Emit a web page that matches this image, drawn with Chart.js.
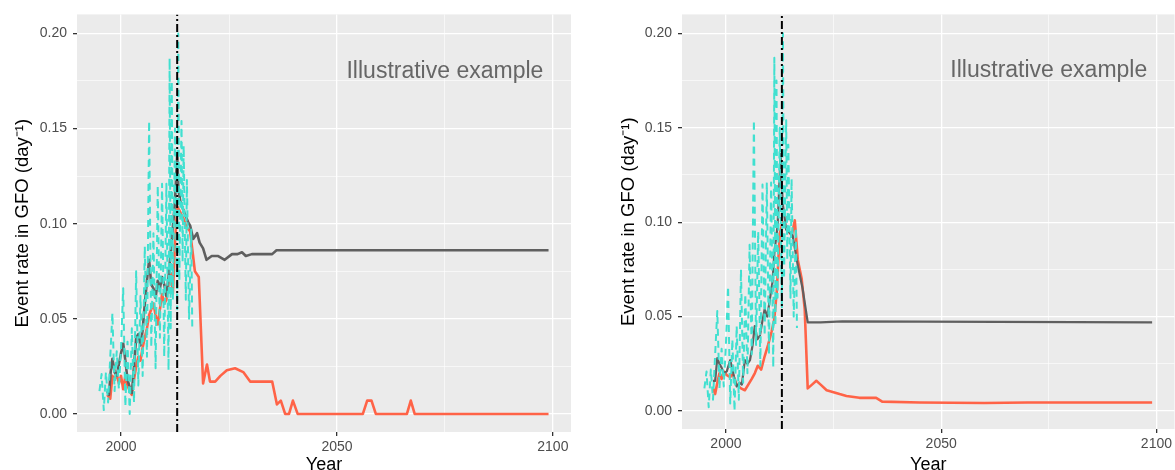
<!DOCTYPE html>
<html lang="en">
<head>
<meta charset="UTF-8" />
<title>Event rate in GFO</title>
<script src="https://cdn.jsdelivr.net/npm/chart.js@4.4.1/dist/chart.umd.min.js"></script>
<style>
  html, body { margin: 0; padding: 0; background: #fff; width: 1175px; height: 470px; overflow: hidden; }
  .panel { position: absolute; top: 0; height: 480px; }
  #left { left: 0; width: 590px; }
  #right { left: 590px; width: 585px; }
</style>
</head>
<body>
<div class="panel" id="left"><canvas id="leftChart"></canvas></div>
<div class="panel" id="right"><canvas id="rightChart"></canvas></div>
<script>
// axis ranges and ticks
const xMin = 1989.8, xMax = 2104.2;
const yMin = -0.0095, yMax = 0.21;
const xTicks = [2000, 2025, 2050, 2075, 2100];
const xMajor = [2000, 2050, 2100];
const yTicks = [0, 0.025, 0.05, 0.075, 0.1, 0.125, 0.15, 0.175, 0.2];
const yMajor = [0, 0.05, 0.1, 0.15, 0.2];
const eventYear = 2013;
const noteText = 'Illustrative example';
const notePos = { x: 2075, y: 0.18 };

// observed rate (dashed), same in both panels
const obsYears = [
  1995.0, 1995.5, 1996.0, 1996.5, 1997.0, 1997.5, 1998.0, 1998.5, 1999.0, 1999.5,
  2000.0, 2000.5, 2001.0, 2001.5, 2002.0, 2002.5, 2003.0, 2003.5, 2004.0, 2004.5,
  2005.0, 2005.5, 2006.0, 2006.5, 2007.0, 2007.5, 2008.0, 2008.5, 2009.0, 2009.5,
  2010.0, 2010.5, 2011.0, 2011.25, 2011.5, 2011.75, 2012.0, 2012.5, 2013.0, 2013.25,
  2013.5, 2014.0, 2014.25, 2014.5, 2015.0, 2015.25, 2015.75, 2016.25, 2016.5
];
const obsRate = [
  0.012, 0.021, 0.002, 0.022, 0.006, 0.030, 0.053, 0.012, 0.033, 0.013,
  0.035, 0.066, 0.004, 0.038, 0.000, 0.045, 0.006, 0.075, 0.015, 0.062,
  0.020, 0.088, 0.030, 0.154, 0.035, 0.095, 0.024, 0.120, 0.040, 0.121,
  0.030, 0.121, 0.023, 0.187, 0.045, 0.175, 0.060, 0.150, 0.055, 0.200,
  0.070, 0.154, 0.080, 0.141, 0.060, 0.123, 0.050, 0.097, 0.044
];

// left panel: model rate (grey) and rate after intervention (red)
const leftGreyYears = [
  1996.8, 1997.2, 1997.6, 1998.0, 1998.5, 1999.0, 1999.5, 2000.0, 2000.5, 2001.0,
  2001.5, 2002.0, 2002.5, 2003.0, 2003.5, 2004.0, 2004.5, 2005.0, 2005.5, 2006.0,
  2006.5, 2007.0, 2007.5, 2008.0, 2008.5, 2009.0, 2009.5, 2010.0, 2010.5, 2011.0,
  2011.5, 2012.0, 2012.5, 2013.0, 2013.3, 2013.7, 2014.3, 2014.8, 2015.5, 2016.0,
  2016.7, 2017.6, 2018.2, 2019.0, 2019.8, 2021.0, 2022.5, 2024.0, 2025.7, 2027.0,
  2028.0, 2028.9, 2030.3, 2035.0, 2036.0, 2099.0
];
const leftGreyRate = [
  0.012, 0.010, 0.022, 0.029, 0.022, 0.020, 0.026, 0.032, 0.037, 0.028,
  0.018, 0.014, 0.011, 0.025, 0.040, 0.042, 0.036, 0.044, 0.058, 0.070,
  0.081, 0.068, 0.066, 0.061, 0.070, 0.066, 0.072, 0.068, 0.062, 0.072,
  0.085, 0.098, 0.112, 0.136, 0.118, 0.112, 0.108, 0.105, 0.101, 0.099,
  0.092, 0.095, 0.090, 0.087, 0.081, 0.083, 0.083, 0.081, 0.084, 0.084,
  0.085, 0.083, 0.084, 0.084, 0.086, 0.086
];
const leftRedYears = [
  1996.8, 1997.5, 1998.0, 1998.5, 1999.0, 1999.5, 2000.0, 2000.5, 2001.0, 2001.5,
  2002.0, 2002.5, 2003.0, 2003.5, 2004.0, 2004.5, 2005.0, 2005.5, 2006.0, 2006.5,
  2007.0, 2007.5, 2008.0, 2008.5, 2009.0, 2009.5, 2010.0, 2010.5, 2011.0, 2011.5,
  2012.0, 2012.5, 2013.0, 2013.5, 2014.4, 2015.2, 2016.0, 2017.1, 2018.0, 2019.0,
  2019.9, 2020.6, 2021.8, 2023.0, 2024.5, 2026.4, 2028.3, 2029.9, 2035.0, 2036.1,
  2037.0, 2038.0, 2038.9, 2039.8, 2040.9, 2056.0, 2057.0, 2058.0, 2059.0, 2066.2,
  2067.1, 2068.0, 2099.0
];
const leftRedRate = [
  0.010, 0.008, 0.020, 0.018, 0.021, 0.016, 0.020, 0.013, 0.020, 0.015,
  0.012, 0.010, 0.018, 0.025, 0.030, 0.028, 0.035, 0.040, 0.045, 0.052,
  0.055, 0.058, 0.052, 0.047, 0.055, 0.063, 0.058, 0.060, 0.068, 0.074,
  0.063, 0.090, 0.109, 0.107, 0.103, 0.098, 0.096, 0.075, 0.072, 0.016,
  0.026, 0.017, 0.017, 0.020, 0.023, 0.024, 0.022, 0.017, 0.017, 0.005,
  0.007, 0.000, 0.000, 0.007, 0.000, 0.000, 0.007, 0.007, 0.000, 0.000,
  0.007, 0.000, 0.000
];

// right panel
const rightGreyYears = [
  1997.0, 1997.5, 1998.0, 1998.5, 1999.0, 1999.5, 2000.2, 2001.0, 2001.5, 2002.0,
  2002.5, 2003.2, 2003.7, 2004.4, 2005.0, 2005.6, 2006.2, 2006.7, 2007.3, 2007.9,
  2008.5, 2009.0, 2009.6, 2010.2, 2010.8, 2011.3, 2012.0, 2012.7, 2013.2, 2014.0,
  2015.5, 2016.7, 2017.8, 2019.0, 2022.0, 2027.0, 2099.0
];
const rightGreyRate = [
  0.016, 0.016, 0.028, 0.025, 0.023, 0.020, 0.021, 0.027, 0.022, 0.017,
  0.013, 0.015, 0.014, 0.027, 0.025, 0.027, 0.035, 0.045, 0.038, 0.040,
  0.048, 0.054, 0.050, 0.059, 0.068, 0.085, 0.098, 0.136, 0.110, 0.096,
  0.093, 0.077, 0.065, 0.047, 0.047, 0.0475, 0.047
];
const rightRedYears = [
  1997.0, 1997.5, 1998.0, 1998.5, 1999.0, 1999.5, 2000.2, 2001.0, 2001.5, 2002.5,
  2003.5, 2004.4, 2005.2, 2006.0, 2006.7, 2007.4, 2008.2, 2009.0, 2009.8, 2010.6,
  2011.2, 2011.8, 2012.5, 2013.2, 2014.0, 2015.3, 2016.0, 2016.7, 2017.6, 2018.3,
  2019.0, 2020.0, 2021.0, 2022.0, 2023.4, 2025.0, 2026.4, 2028.0, 2031.0, 2034.9,
  2036.3, 2045.0, 2060.0, 2070.0, 2099.0
];
const rightRedRate = [
  0.012, 0.009, 0.015, 0.020, 0.017, 0.021, 0.019, 0.018, 0.020, 0.014,
  0.012, 0.011, 0.014, 0.017, 0.020, 0.024, 0.022, 0.029, 0.035, 0.042,
  0.048, 0.063, 0.094, 0.100, 0.097, 0.093, 0.101, 0.080, 0.070, 0.054,
  0.012, 0.014, 0.016, 0.014, 0.011, 0.010, 0.009, 0.008, 0.007, 0.007,
  0.005, 0.0045, 0.0043, 0.0045, 0.0045
];

function pairs(xs, ys) {
  return xs.map((x, i) => ({ x: x, y: ys[i] }));
}

const panelBg = {
  id: 'panelBg',
  beforeDraw(chart) {
    const { ctx, chartArea: a } = chart;
    ctx.save();
    ctx.fillStyle = '#EBEBEB';
    ctx.fillRect(a.left, a.top, a.right - a.left, a.bottom - a.top);
    ctx.restore();
  },
  afterDraw(chart) {
    const { ctx, scales } = chart;
    ctx.save();
    ctx.font = '23px "Liberation Sans", Arial, sans-serif';
    ctx.fillStyle = '#666666';
    ctx.textAlign = 'center';
    ctx.textBaseline = 'middle';
    ctx.fillText(noteText, scales.x.getPixelForValue(notePos.x), scales.y.getPixelForValue(notePos.y));
    ctx.restore();
  }
};

const font = '"Liberation Sans", Arial, sans-serif';

function makePanel(id, grey, red, opt) {
  // index 0 is drawn on top
  return new Chart(document.getElementById(id), {
    type: 'line',
    data: {
      datasets: [
        {
          data: [{ x: eventYear, y: yMin }, { x: eventYear, y: yMax }],
          borderColor: '#000000', borderWidth: 2, borderDash: [8, 3, 2, 3],
          pointRadius: 0
        },
        {
          data: pairs(obsYears, obsRate),
          borderColor: '#40E0D0', borderWidth: 2, borderDash: [7, 5],
          pointRadius: 0
        },
        {
          data: grey,
          borderColor: '#5F5F5F', borderWidth: opt.greyWidth,
          pointRadius: 0
        },
        {
          data: red,
          borderColor: '#FF6347', borderWidth: 2.6,
          pointRadius: 0
        }
      ]
    },
    options: {
      responsive: true,
      maintainAspectRatio: false,
      animation: false,
      layout: { padding: { top: 14, right: opt.padRight, left: 0, bottom: 0 } },
      plugins: { legend: { display: false }, tooltip: { enabled: false } },
      elements: { line: { tension: 0, borderJoinStyle: 'round' } },
      scales: {
        x: {
          type: 'linear', min: xMin, max: xMax,
          afterBuildTicks: (s) => { s.ticks = xTicks.map(v => ({ value: v })); },
          afterFit: (s) => { s.height = opt.xHeight; },
          ticks: {
            autoSkip: false, maxRotation: 0, padding: 3,
            color: '#4D4D4D', font: { family: font, size: 14 },
            callback: (v) => xMajor.includes(v) ? String(v) : ''
          },
          grid: {
            color: '#FFFFFF',
            lineWidth: (c) => xMajor.includes(c.tick.value) ? 1.3 : 0.6,
            tickLength: 4,
            tickColor: (c) => xMajor.includes(c.tick.value) ? '#333333' : 'rgba(0,0,0,0)'
          },
          border: { display: false },
          title: {
            display: true, text: 'Year', color: '#000000',
            font: { family: font, size: 18 }, padding: { top: 0, bottom: 4 }
          }
        },
        y: {
          type: 'linear', min: yMin, max: yMax,
          afterBuildTicks: (s) => { s.ticks = yTicks.map(v => ({ value: v })); },
          afterFit: (s) => { s.width = opt.yWidth; },
          ticks: {
            padding: 6,
            color: '#4D4D4D', font: { family: font, size: 14 },
            callback: (v) => yMajor.includes(v) ? v.toFixed(2) : ''
          },
          grid: {
            color: '#FFFFFF',
            lineWidth: (c) => yMajor.includes(c.tick.value) ? 1.3 : 0.6,
            tickLength: 4,
            tickColor: (c) => yMajor.includes(c.tick.value) ? '#333333' : 'rgba(0,0,0,0)'
          },
          border: { display: false },
          title: {
            display: true, text: 'Event rate in GFO (day⁻¹)', color: '#000000',
            font: { family: font, size: 18.5 }, padding: { top: opt.titlePad, bottom: 0 }
          }
        }
      }
    },
    plugins: [panelBg]
  });
}

makePanel('leftChart', pairs(leftGreyYears, leftGreyRate), pairs(leftRedYears, leftRedRate),
  { padRight: 19, xHeight: 48, yWidth: 77, titlePad: 12, greyWidth: 2.6 });
makePanel('rightChart', pairs(rightGreyYears, rightGreyRate), pairs(rightRedYears, rightRedRate),
  { padRight: 0, xHeight: 51, yWidth: 92, titlePad: 28, greyWidth: 2.2 });
</script>
</body>
</html>
